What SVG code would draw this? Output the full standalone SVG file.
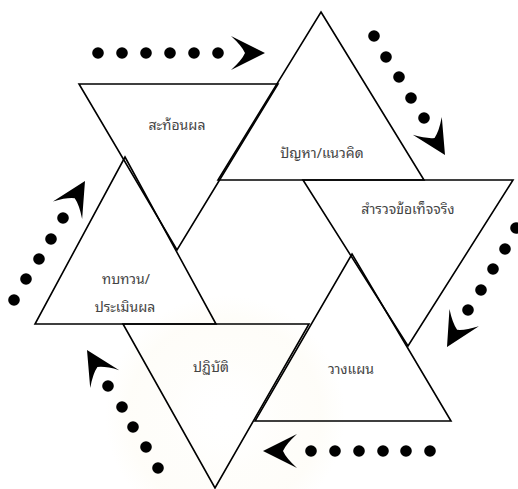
<svg xmlns="http://www.w3.org/2000/svg" xmlns:xlink="http://www.w3.org/1999/xlink" width="518" height="489" viewBox="0 0 518 489">
<style>
.tri{fill:none;stroke:#000;stroke-width:1.6;stroke-linejoin:miter}
.lbl{font-family:"Noto Sans Thai Looped","Noto Serif Thai","Norasi","Garuda","Loma","Noto Sans Thai","DejaVu Sans",sans-serif;font-size:14px;fill:#444;text-anchor:middle}
.dot{fill:#000}
.ah{fill:#000}
</style>
<defs>
<path id="ah" class="ah" d="M0,0 L-34,-17 Q-23,-7 -20,0 Q-23,7 -34,17 Z"/>
<radialGradient id="wm" cx="0.5" cy="0.5" r="0.5">
<stop offset="0" stop-color="#ffffff" stop-opacity="0"/>
<stop offset="0.45" stop-color="#f6ecc8" stop-opacity="0.08"/>
<stop offset="0.8" stop-color="#f6ecc8" stop-opacity="0.12"/>
<stop offset="1" stop-color="#f6ecc8" stop-opacity="0"/>
</radialGradient>
</defs>
<rect width="518" height="489" fill="#fff"/>
<circle cx="225" cy="415" r="120" fill="url(#wm)"/>

<g id="node-problem">
<polygon class="tri" points="321,12 424,180 218,180"/>
<text class="lbl" x="322" y="158">ปัญหา/แนวคิด</text>
</g>
<g id="node-reflect">
<polygon class="tri" points="79,84 278,84 177,250"/>
<text class="lbl" x="177" y="130">สะท้อนผล</text>
</g>
<g id="node-survey">
<polygon class="tri" points="303,180 513,180 408,346"/>
<text class="lbl" x="408" y="214">สำรวจข้อเท็จจริง</text>
</g>
<g id="node-plan">
<polygon class="tri" points="352,254 451,421 255,421"/>
<text class="lbl" x="351" y="374">วางแผน</text>
</g>
<g id="node-act">
<polygon class="tri" points="123,324 309,324 215,488"/>
<text class="lbl" x="211" y="372">ปฏิบัติ</text>
</g>
<g id="node-review">
<polygon class="tri" points="125,157 216,324 35,324"/>
<text class="lbl" x="126" y="284">ทบทวน/</text>
<text class="lbl" x="125" y="312">ประเมินผล</text>
</g>

<g id="connectors">
<g id="arrow-top">
<circle class="dot" cx="98" cy="53" r="5.8"/>
<circle class="dot" cx="122" cy="53" r="5.8"/>
<circle class="dot" cx="146" cy="53" r="5.8"/>
<circle class="dot" cx="170" cy="53" r="5.8"/>
<circle class="dot" cx="194" cy="53" r="5.8"/>
<circle class="dot" cx="218" cy="53" r="5.8"/>
<use xlink:href="#ah" href="#ah" transform="translate(265,53)"/>
</g>
<g id="arrow-topright">
<circle class="dot" cx="374" cy="36" r="5.8"/>
<circle class="dot" cx="386" cy="57" r="5.8"/>
<circle class="dot" cx="399" cy="77" r="5.8"/>
<circle class="dot" cx="411" cy="98" r="5.8"/>
<circle class="dot" cx="424" cy="118" r="5.8"/>
<use xlink:href="#ah" href="#ah" transform="translate(445,155) rotate(58.6)"/>
</g>
<g id="arrow-right">
<circle class="dot" cx="516" cy="228" r="5.8"/>
<circle class="dot" cx="505" cy="249" r="5.8"/>
<circle class="dot" cx="493" cy="269" r="5.8"/>
<circle class="dot" cx="481" cy="290" r="5.8"/>
<circle class="dot" cx="468" cy="310" r="5.8"/>
<use xlink:href="#ah" href="#ah" transform="translate(447,347) rotate(120.3)"/>
</g>
<g id="arrow-bottom">
<circle class="dot" cx="430" cy="451" r="5.8"/>
<circle class="dot" cx="406" cy="451" r="5.8"/>
<circle class="dot" cx="383" cy="451" r="5.8"/>
<circle class="dot" cx="359" cy="451" r="5.8"/>
<circle class="dot" cx="335" cy="451" r="5.8"/>
<circle class="dot" cx="311" cy="451" r="5.8"/>
<use xlink:href="#ah" href="#ah" transform="translate(263,451) rotate(180)"/>
</g>
<g id="arrow-bottomleft">
<circle class="dot" cx="158" cy="468" r="5.8"/>
<circle class="dot" cx="146" cy="447" r="5.8"/>
<circle class="dot" cx="133" cy="427" r="5.8"/>
<circle class="dot" cx="122" cy="407" r="5.8"/>
<circle class="dot" cx="108" cy="386" r="5.8"/>
<use xlink:href="#ah" href="#ah" transform="translate(87,350) rotate(238.6)"/>
</g>
<g id="arrow-left">
<circle class="dot" cx="14" cy="300" r="5.8"/>
<circle class="dot" cx="26" cy="279" r="5.8"/>
<circle class="dot" cx="39" cy="259" r="5.8"/>
<circle class="dot" cx="51" cy="239" r="5.8"/>
<circle class="dot" cx="63" cy="218" r="5.8"/>
<use xlink:href="#ah" href="#ah" transform="translate(85,181) rotate(-59.1)"/>
</g>
</g>
</svg>
